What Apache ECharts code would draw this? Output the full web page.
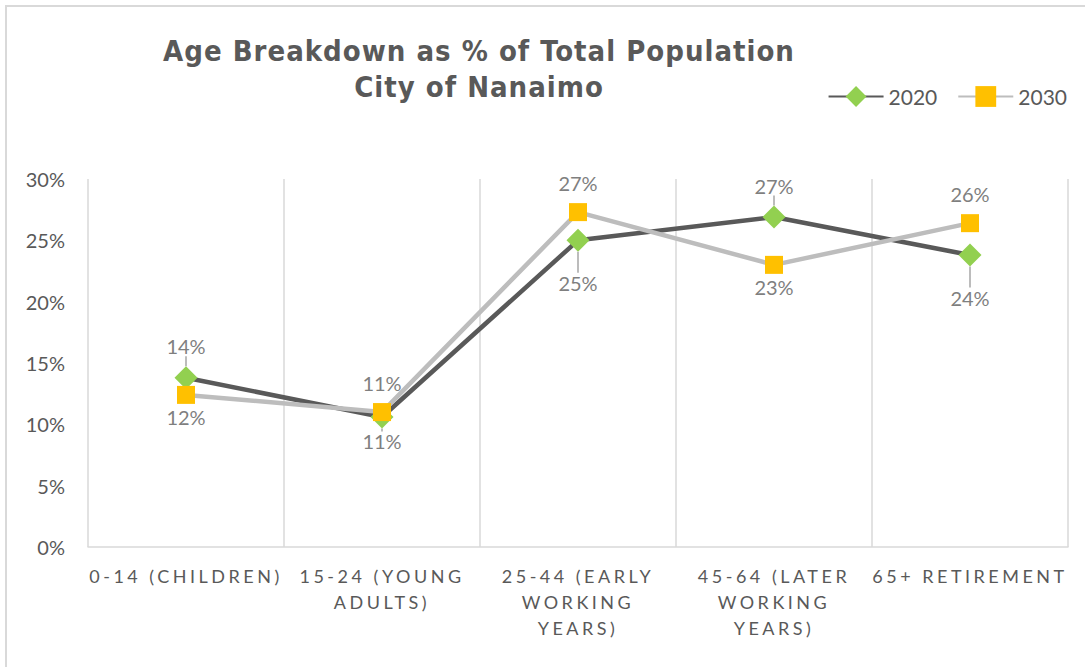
<!DOCTYPE html>
<html>
<head>
<meta charset="utf-8">
<script src="https://cdn.jsdelivr.net/npm/echarts@6/dist/echarts.min.js"></script>
<style>
html, body { margin: 0; padding: 0; background: #fff; }
#main { width: 1085px; height: 667px; }
/* spaced lettering like the original: title and category labels */
#main text[style*="Condensed"] { letter-spacing: 1px; }
#main text[style*="Lato, sans-serif"] { letter-spacing: 3.5px; }
</style>
</head>
<body>
<div id="main"></div>
<script>
// data
var categories = ['0-14 (CHILDREN)', '15-24 (YOUNG\nADULTS)', '25-44 (EARLY\nWORKING\nYEARS)', '45-64 (LATER\nWORKING\nYEARS)', '65+ RETIREMENT'];
var seriesNames = ['2020', '2030'];
var values2020 = [13.8, 10.6, 25.0, 26.9, 23.8];
var values2030 = [12.4, 11.0, 27.3, 23.0, 26.4];
var yTicks = [0, 5, 10, 15, 20, 25, 30];

var chart = echarts.init(document.getElementById('main'), null, { renderer: 'svg' });

// label goes above the point when this series is higher, below otherwise
function buildData(vals, other) {
    return vals.map(function (v, i) {
        return {
            value: v,
            label: { position: v >= other[i] ? 'top' : 'bottom', distance: v >= other[i] ? 10 : 3 }
        };
    });
}

var labelStyle = {
    show: true,
    color: '#7f7f7f',
    fontSize: 20,
    fontFamily: 'Lato',
    formatter: function (p) { return Math.round(p.value) + '%'; }
};

var option = {
    animation: false,
    backgroundColor: '#fff',
    graphic: [{
        type: 'rect',
        shape: { x: 6, y: 6, width: 1200, height: 800 },
        style: { fill: 'none', stroke: '#d9d9d9', lineWidth: 2 },
        silent: true
    }],
    title: {
        text: 'Age Breakdown as % of Total Population\nCity of Nanaimo',
        left: 474,
        top: 28,
        textAlign: 'center',
        textStyle: {
            fontFamily: 'DejaVu Sans Condensed',
            fontWeight: 'bold',
            fontSize: 29,
            lineHeight: 36,
            color: '#595959'
        }
    },
    legend: {
        data: seriesNames,
        right: 13,
        top: 81,
        itemWidth: 55,
        itemHeight: 26,
        itemGap: 20,
        textStyle: { color: '#595959', fontSize: 21, fontFamily: 'Lato' }
    },
    grid: { left: 88, right: 17, top: 179, bottom: 120 },
    xAxis: {
        type: 'category',
        data: categories,
        boundaryGap: true,
        axisLine: { lineStyle: { color: '#d9d9d9', width: 1.5 } },
        axisTick: { show: false },
        splitLine: { show: true, lineStyle: { color: '#d9d9d9', width: 1.5 } },
        axisLabel: {
            interval: 0,
            margin: 16,
            color: '#595959',
            fontSize: 18,
            lineHeight: 26,
            fontFamily: 'Lato, sans-serif'
        }
    },
    yAxis: {
        type: 'value',
        min: yTicks[0],
        max: yTicks[yTicks.length - 1],
        interval: yTicks[1] - yTicks[0],
        axisLine: { show: false },
        axisTick: { show: false },
        splitLine: { show: false },
        axisLabel: {
            margin: 23,
            color: '#595959',
            fontSize: 20,
            fontFamily: 'Lato',
            formatter: '{value}%'
        }
    },
    series: [
        {
            name: seriesNames[0],
            type: 'line',
            data: buildData(values2020, values2030),
            symbol: 'diamond',
            symbolSize: 23,
            lineStyle: { color: '#595959', width: 4.5 },
            itemStyle: { color: '#92D050' },
            label: labelStyle,
            labelLine: { show: true, lineStyle: { color: '#a6a6a6', width: 1.5 } },
            labelLayout: function (p) {
                // these two labels sit below the other line, pulled out with a leader
                if (p.dataIndex === 2 || p.dataIndex === 4) {
                    return { dy: 18 };
                }
            }
        },
        {
            name: seriesNames[1],
            type: 'line',
            data: buildData(values2030, values2020),
            symbol: 'rect',
            symbolSize: 18,
            lineStyle: { color: '#bdbdbd', width: 4.5 },
            itemStyle: { color: '#FFC000' },
            label: labelStyle
        }
    ]
};

chart.setOption(option);

window.onresize = function () {
    chart.resize();
};
</script>
</body>
</html>
